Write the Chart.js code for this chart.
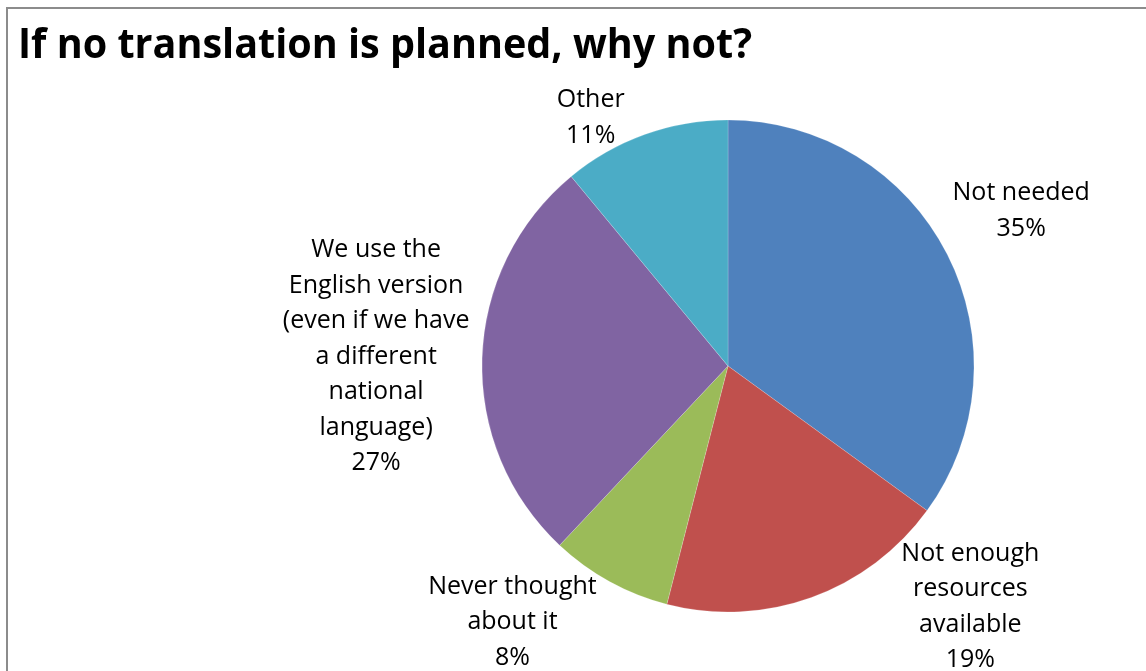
<!DOCTYPE html>
<html>
<head>
<meta charset="utf-8">
<script src="https://cdn.jsdelivr.net/npm/chart.js@4/dist/chart.umd.min.js"></script>
<style>
  html, body { margin: 0; padding: 0; background: #fff; overflow: hidden; }
  #wrap { position: relative; width: 1146px; height: 671px; }
  #frame {
    position: absolute; left: 6px; top: 7px; width: 1140px; height: 700px;
    border-top: 2px solid #8c8c8c; border-left: 2px solid #8c8c8c;
    box-sizing: border-box; pointer-events: none;
  }
  canvas { position: absolute; left: 0; top: 0; }
</style>
</head>
<body>
<div id="wrap">
  <canvas id="pie" width="1146" height="671"></canvas>
  <div id="frame"></div>
</div>
<script>
const titleText = 'If no translation is planned, why not?';

// slice names, already wrapped the way they are printed
const categories = [
  ['Not needed'],
  ['Not enough', 'resources', 'available'],
  ['Never thought', 'about it'],
  ['We use the', 'English version', '(even if we have', 'a different', 'national', 'language)'],
  ['Other']
];
const percents = [35, 19, 8, 27, 11];
const colors = ['#4f81bd', '#c0504d', '#9bbb59', '#8064a2', '#4bacc6'];

// where each label block sits relative to the middle of its slice's rim
const labelNudge = [[74, -45], [159, 8], [-97, 39], [-106, -3], [-54, -18]];

const titlePlugin = {
  id: 'sheetTitle',
  afterDraw(chart) {
    const { ctx } = chart;
    ctx.save();
    ctx.font = 'bold 42px "Open Sans"';
    ctx.fillStyle = '#000';
    ctx.textBaseline = 'alphabetic';
    const w = ctx.measureText(titleText).width;
    const sx = 734 / w;
    ctx.translate(18, 58);
    ctx.scale(sx, 1);
    ctx.fillText(titleText, 0, 0);
    ctx.restore();
  }
};

const sliceLabelPlugin = {
  id: 'sliceLabels',
  afterDatasetsDraw(chart) {
    const { ctx } = chart;
    const meta = chart.getDatasetMeta(0);
    const lh = 35.5;
    ctx.save();
    ctx.font = '25px "Open Sans"';
    ctx.fillStyle = '#000';
    ctx.textAlign = 'center';
    ctx.textBaseline = 'alphabetic';
    meta.data.forEach((arc, i) => {
      const mid = (arc.startAngle + arc.endAngle) / 2;
      const ex = arc.x + Math.cos(mid) * arc.outerRadius;
      const ey = arc.y + Math.sin(mid) * arc.outerRadius;
      const cx = ex + labelNudge[i][0];
      const cy = ey + labelNudge[i][1];
      const lines = categories[i].concat([percents[i] + '%']);
      const first = cy + 8.5 - (lines.length - 1) * lh / 2;
      lines.forEach((t, j) => ctx.fillText(t, cx, first + j * lh));
    });
    ctx.restore();
  }
};

new Chart(document.getElementById('pie'), {
  type: 'pie',
  data: {
    labels: categories,
    datasets: [{
      data: percents,
      backgroundColor: colors,
      borderColor: 'rgba(255,255,255,0.18)',
      borderWidth: 1
    }]
  },
  options: {
    responsive: false,
    animation: false,
    radius: 246,
    layout: { padding: { left: 482, right: 172, top: 120, bottom: 59 } },
    plugins: {
      legend: { display: false },
      tooltip: { enabled: false }
    }
  },
  plugins: [sliceLabelPlugin, titlePlugin]
});
</script>
</body>
</html>
